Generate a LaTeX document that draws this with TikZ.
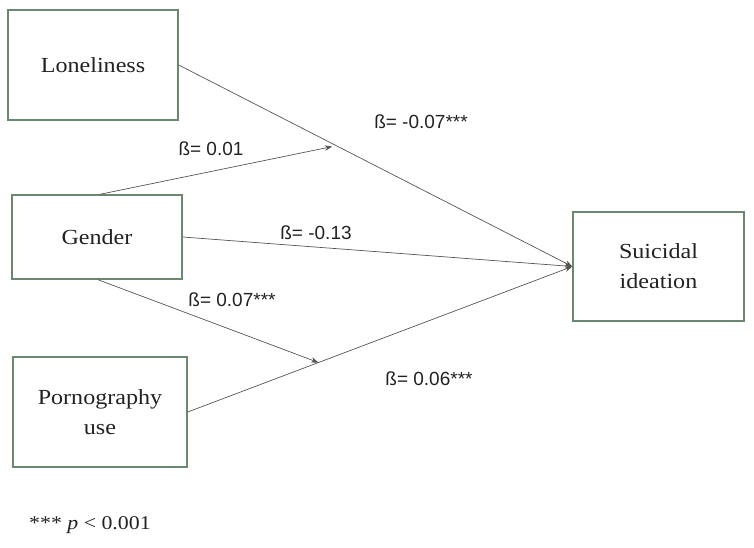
\documentclass[tikz,border=0pt]{standalone}
\usepackage{fontspec}
\setmainfont{Liberation Serif}[FakeStretch=1.12]
\setsansfont{Liberation Sans}
\usetikzlibrary{arrows.meta,calc}
\definecolor{boxgreen}{HTML}{6B8870}
\definecolor{linegrey}{HTML}{555555}
\definecolor{txt}{HTML}{222222}
\tikzset{
  varbox/.style={draw=boxgreen, line width=1.4pt, fill=white, inner sep=2pt, align=center,
    text=txt, font=\fontsize{21.5}{30}\selectfont},
  pathline/.style={draw=linegrey, line width=0.7pt, -{Stealth[length=7.5pt,width=5.5pt]}},
  coef/.style={font=\sffamily\fontsize{19}{22}\selectfont, inner sep=0pt, text=txt}
}
\begin{document}
\begin{tikzpicture}[x=1pt,y=-1pt]
\useasboundingbox (0,0) rectangle (754,548);
\node[varbox, minimum width=170pt, minimum height=110pt] (lon) at (93,65) {Loneliness};
\node[varbox, minimum width=170pt, minimum height=84pt] (gen) at (97,237) {Gender};
\node[varbox, minimum width=174pt, minimum height=110pt] (por) at (100,412) {Pornography\\use};
\node[varbox, minimum width=171pt, minimum height=109pt] (sui) at (658.5,266.5) {Suicidal\\ideation};

\coordinate (m1) at ($(lon.east)!0.39!(sui.west)+(0,3)$);
\coordinate (m2) at ($(por.east)!0.34!(sui.west)$);

\draw[pathline] (lon.east) -- (sui.west);
\draw[pathline] (gen.east) -- (sui.west);
\draw[pathline] (por.east) -- (sui.west);
\draw[pathline] ([xshift=3pt]gen.north) -- (m1);
\draw[pathline] ([xshift=1pt]gen.south) -- (m2);

\node[coef] (c1) at (421,122) {ß= -0.07***};
\node[coef] (c2) at (211,149) {ß= 0.01};
\node[coef] (c3) at (316,233) {ß= -0.13};
\node[coef] (c4) at (232,300) {ß= 0.07***};
\node[coef] (c5) at (429,379) {ß= 0.06***};
\node[anchor=west, inner sep=0pt, text=txt, font=\fontsize{19.5}{24}\selectfont] (note) at (29,525) {*** \textit{p} < 0.001};
\end{tikzpicture}
\end{document}
